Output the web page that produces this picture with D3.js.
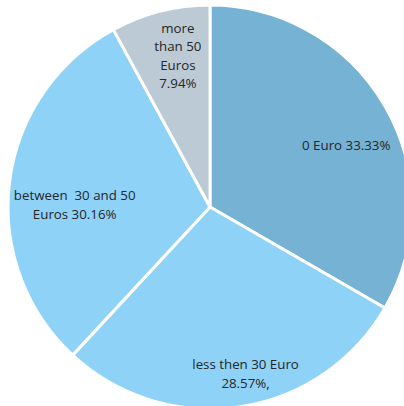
<!DOCTYPE html>
<html>
<head>
<meta charset="utf-8">
<script src="https://cdn.jsdelivr.net/npm/d3@7"></script>
<style>
  html, body { margin: 0; padding: 0; background: #fff; }
  svg { display: block; }
  text { font-family: "Open Sans", "Liberation Sans", sans-serif; font-size: 13.3px; fill: #262626; white-space: pre; }
</style>
</head>
<body>
<svg id="chart" width="404" height="406"></svg>
<script>
// Monthly spending shares (percent)
const categories = ["0 Euro", "less then 30 Euro", "between 30 and 50 Euros", "more than 50 Euros"];
const shares = [33.33, 28.57, 30.16, 7.94];
const labelLines = [
  ["0 Euro 33.33%"],
  ["less then 30 Euro", "28.57%,"],
  ["between  30 and 50", "Euros 30.16%"],
  ["more", "than 50", "Euros", "7.94%"]
];
const colors = ["#76b2d3", "#8fd2f7", "#8fd2f7", "#bccad5"];

const svg = d3.select("#chart");
const cx = 210, cy = 207, R = 202;
const g = svg.append("g").attr("transform", `translate(${cx},${cy})`);

const pie = d3.pie().sort(null).value(d => d.v);
const arcs = pie(shares.map((v, i) => ({ v, i })));
const arc = d3.arc().innerRadius(0).outerRadius(R);

g.selectAll("path.slice")
  .data(arcs)
  .join("path")
  .attr("class", "slice")
  .attr("d", arc)
  .attr("fill", d => colors[d.data.i])
  .attr("stroke", "#fff")
  .attr("stroke-width", 3)
  .attr("stroke-linejoin", "round");

// label placement: radial distance factor and angular nudge per slice
const labelRadius = [0.74, 0.845, 0.67, 0.765];
const labelTurn = [0.10, -0.06, -0.11, 0.04];
const lineH = 18.5;

g.selectAll("text.lbl")
  .data(arcs)
  .join("text")
  .attr("class", "lbl")
  .attr("text-anchor", "middle")
  .each(function (d) {
    const i = d.data.i;
    const a = (d.startAngle + d.endAngle) / 2 + labelTurn[i];
    const r = R * labelRadius[i];
    const x = Math.sin(a) * r, y = -Math.cos(a) * r;
    const lines = labelLines[i];
    const y0 = y - (lines.length - 1) * lineH / 2;
    d3.select(this).selectAll("tspan")
      .data(lines)
      .join("tspan")
      .attr("x", x)
      .attr("y", (t, k) => y0 + k * lineH)
      .attr("dy", "0.35em")
      .text(t => t);
  });
</script>
</body>
</html>
